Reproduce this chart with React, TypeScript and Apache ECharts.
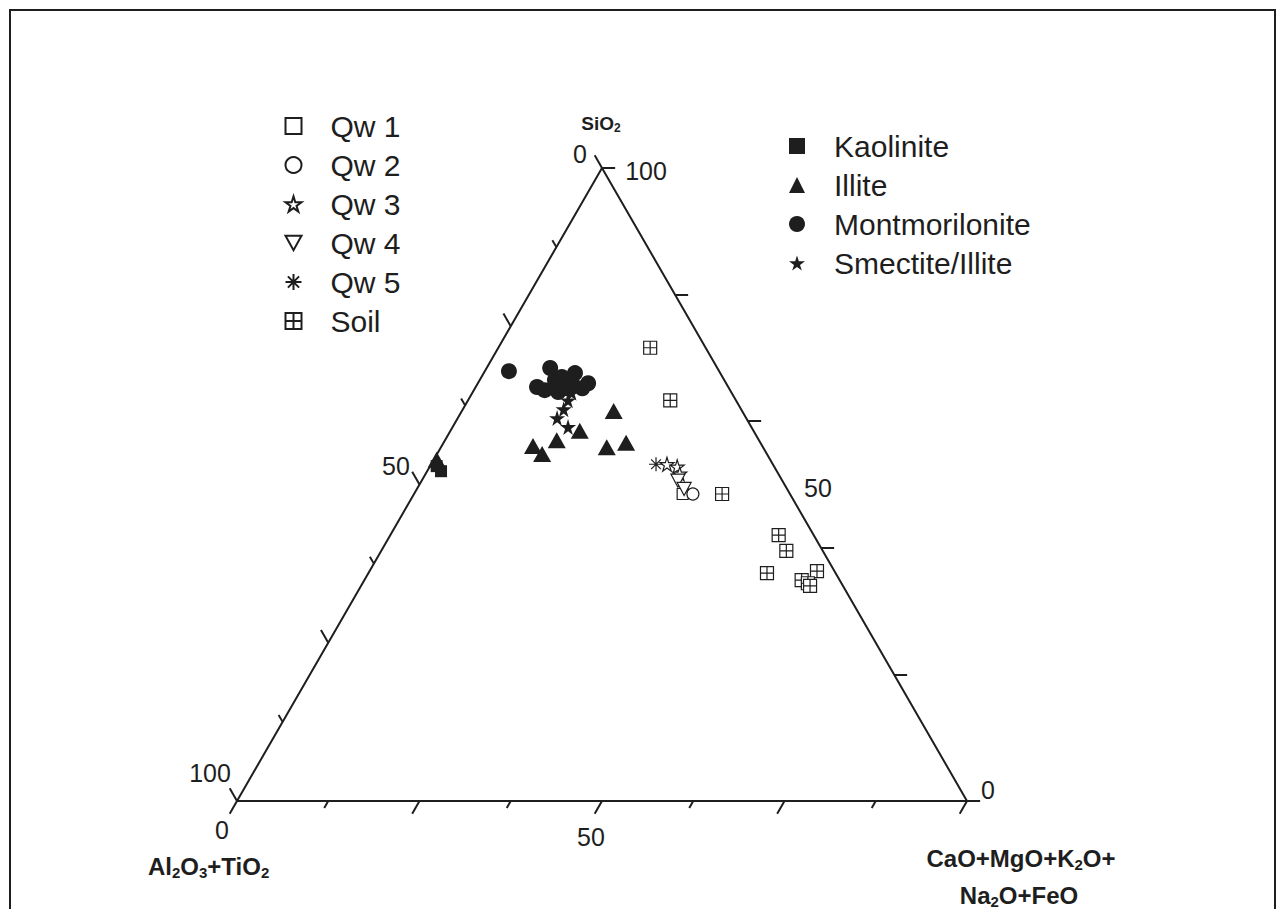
import React, { useEffect, useRef } from "react";
import * as echarts from "echarts";

// ternary values: [SiO2, Al2O3+TiO2, CaO+MgO+K2O+Na2O+FeO]
const montmorillonite = [[67.9,28.8,3.3],[68.4,22.9,8.7],[65.4,26.2,8.4],[64.9,25.4,9.7],[66.5,23.2,10.3],[67.0,22.0,11.0],[67.6,19.9,12.5],[66.0,21.1,12.9],[66.0,18.9,15.1],[65.2,20.1,14.7],[64.6,23.7,11.7],[65.2,22.2,12.6]];
const smectiteIllite = [[64.5,21.9,13.6],[63.3,23.0,13.7],[61.9,24.3,13.8],[60.5,25.9,13.6],[59.1,25.1,15.8]];
const illite = [[61.6,17.6,20.8],[58.5,23.8,17.7],[57.0,27.7,15.3],[56.1,31.4,12.5],[54.8,30.8,14.4],[55.9,21.4,22.7],[56.6,18.4,25.0],[53.9,45.7,0.4]];
const kaolinite = [[52.9,46.2,0.9],[52.1,46.0,1.9]];
const qw1 = [[48.5,14.7,36.8]];
const qw2 = [[48.5,13.3,38.2]];
const qw3 = [[53.2,14.5,32.3],[52.8,13.3,33.9],[51.7,13.5,34.8]];
const qw4 = [[50.6,14.3,35.1],[49.3,14.1,36.6]];
const qw5 = [[53.2,16.0,30.8]];
const soil = [[71.6,7.6,20.8],[63.3,9.0,27.7],[48.5,9.3,42.2],[42.0,4.8,53.2],[39.5,5.0,55.5],[36.0,9.4,54.6],[34.9,5.2,59.9],[36.3,2.4,61.3],[34.4,4.6,61.0],[34.0,4.5,61.5]];

const leftTicks = [0, 12.5, 25, 37.5, 50, 62.5, 75, 87.5, 100];   // Al2O3+TiO2
const bottomTicks = [0, 12.5, 25, 37.5, 50, 62.5, 75, 87.5, 100]; // CaO+...
const rightTicks = [0, 20, 40, 60, 80, 100];                        // SiO2

const legendLeft = ["Qw 1", "Qw 2", "Qw 3", "Qw 4", "Qw 5", "Soil"];
const legendRight = ["Kaolinite", "Illite", "Montmorilonite", "Smectite/Illite"];

const H = Math.sqrt(3) / 2;
const toXY = (p: number[]) => {
  const t = p[0] + p[1] + p[2];
  const S = (p[0] / t) * 100;
  const C = (p[2] / t) * 100;
  return [C + S / 2, S * H];
};

const INK = "#1e1e1e";
const STAR = "path://M50,0 L61,35 L98,35 L68,57 L79,91 L50,70 L21,91 L32,57 L2,35 L39,35 Z";
const DOWN_TRI = "path://M0,0 L100,0 L50,90 Z";
const ASTER = "path://M0,50 L100,50 M50,0 L50,100 M15,15 L85,85 M85,15 L15,85";
const GRIDSQ = "path://M0,0 L100,0 L100,100 L0,100 Z M50,0 L50,100 M0,50 L100,50";
const FONT = "Liberation Sans, Arial, sans-serif";

export default function App() {
  const ref = useRef<HTMLDivElement>(null);
  useEffect(() => {
    if (!ref.current) return;
    const chart = echarts.init(ref.current, null, { renderer: "svg" });

    const tickLines: any[] = [];
    const LONG = 2.0, SHORT = 1.1;
    leftTicks.forEach((a, i) => {
      const S = 100 - a;
      const x = S / 2, y = S * H;
      const L = i % 2 === 0 ? LONG : SHORT;
      tickLines.push({ coords: [[x, y], [x - 0.5 * L, y + H * L]] });
    });
    bottomTicks.forEach((c, i) => {
      const L = i % 2 === 0 ? LONG : SHORT;
      tickLines.push({ coords: [[c, 0], [c - 0.5 * L, -H * L]] });
    });
    rightTicks.forEach((s) => {
      const x = 100 - s / 2, y = s * H;
      tickLines.push({ coords: [[x, y], [x + 1.8, y]] });
    });

    const open = { color: "#fff", borderColor: INK, borderWidth: 1.2, opacity: 1 };
    const filled = { color: INK, opacity: 1 };
    const sc = (name: string, data: number[][], symbol: string, size: any, itemStyle: any, z = 3) => ({
      name, type: "scatter", data: data.map(toXY), symbol, symbolSize: size, itemStyle, z,
      emphasis: { disabled: true },
    });

    const sub = (fs: number) => ({ fontSize: fs, fontWeight: "bold", fontFamily: FONT, fill: INK, padding: [Math.round(fs * 0.8), 0, 0, 0] });
    const txt = (x: number, y: number, text: string, fs = 25, align = "center") => ({
      type: "text", x, y, style: { text, fontSize: fs, fontFamily: FONT, fill: INK, align, verticalAlign: "middle" },
    });
    const rtxt = (x: number, y: number, text: string, align = "left") => ({
      type: "text", x, y,
      style: {
        text, align, verticalAlign: "middle", fill: INK,
        rich: {
          a: { fontSize: 24, fontWeight: "bold", fontFamily: FONT, fill: INK },
          b: sub(15),
        },
      },
    });

    const legendBase = {
      orient: "vertical", itemWidth: 16, itemHeight: 16, itemGap: 9,
      textStyle: { fontSize: 30, fontFamily: FONT, color: INK, lineHeight: 30, padding: [0, 0, 0, 24] },
      selectedMode: false,
    };

    chart.setOption({
      animation: false,
      grid: { left: 237, top: 168, width: 730, height: 633 },
      xAxis: { type: "value", min: 0, max: 100, show: false },
      yAxis: { type: "value", min: 0, max: 100 * H, show: false },
      legend: [
        { ...legendBase, data: legendLeft, left: 278, top: 106 },
        { ...legendBase, data: legendRight, left: 784, top: 126 },
      ],
      graphic: [
        { type: "rect", shape: { x: 10, y: 10, width: 1265, height: 960 }, style: { fill: "none", stroke: INK, lineWidth: 2 } },
        {
          type: "text", x: 601, y: 123,
          style: {
            text: "{a|SiO}{b|2}", align: "center", verticalAlign: "middle",
            rich: { a: { fontSize: 19, fontWeight: "bold", fontFamily: FONT, fill: INK }, b: sub(12) },
          },
        },
        txt(580, 154, "0"),
        txt(646, 171, "100"),
        txt(396, 466, "50"),
        txt(210, 773, "100"),
        txt(222, 830, "0"),
        txt(591, 837, "50"),
        txt(818, 488, "50"),
        txt(988, 790, "0"),
        rtxt(148, 866, "{a|Al}{b|2}{a|O}{b|3}{a|+TiO}{b|2}"),
        rtxt(1021, 858, "{a|CaO+MgO+K}{b|2}{a|O+}", "center"),
        rtxt(1019, 895, "{a|Na}{b|2}{a|O+FeO}", "center"),
      ],
      series: [
        {
          type: "line", data: [[0, 0], [100, 0], [50, 100 * H], [0, 0]], symbol: "none",
          lineStyle: { color: INK, width: 2 }, clip: false, z: 1, silent: true,
        },
        {
          type: "lines", coordinateSystem: "cartesian2d", data: tickLines, clip: false,
          lineStyle: { color: INK, width: 2, opacity: 1 }, symbol: "none", z: 1, silent: true,
        },
        sc("Qw 1", qw1, "rect", 11, open),
        sc("Qw 2", qw2, "circle", 12, open),
        sc("Qw 3", qw3, STAR, 14, open),
        sc("Qw 4", qw4, DOWN_TRI, [14, 13], open),
        sc("Qw 5", qw5, ASTER, 14, { color: "none", borderColor: INK, borderWidth: 1.2, opacity: 1 }),
        sc("Soil", soil, GRIDSQ, 13, open),
        sc("Kaolinite", kaolinite, "rect", 12, filled),
        sc("Illite", illite, "triangle", [18, 16], filled),
        sc("Montmorilonite", montmorillonite, "circle", 16, filled),
        sc("Smectite/Illite", smectiteIllite, STAR, 16, filled),
      ],
    });
    return () => chart.dispose();
  }, []);
  return <div ref={ref} style={{ position: "absolute", left: 0, top: 0, width: 1283, height: 909 }} />;
}
